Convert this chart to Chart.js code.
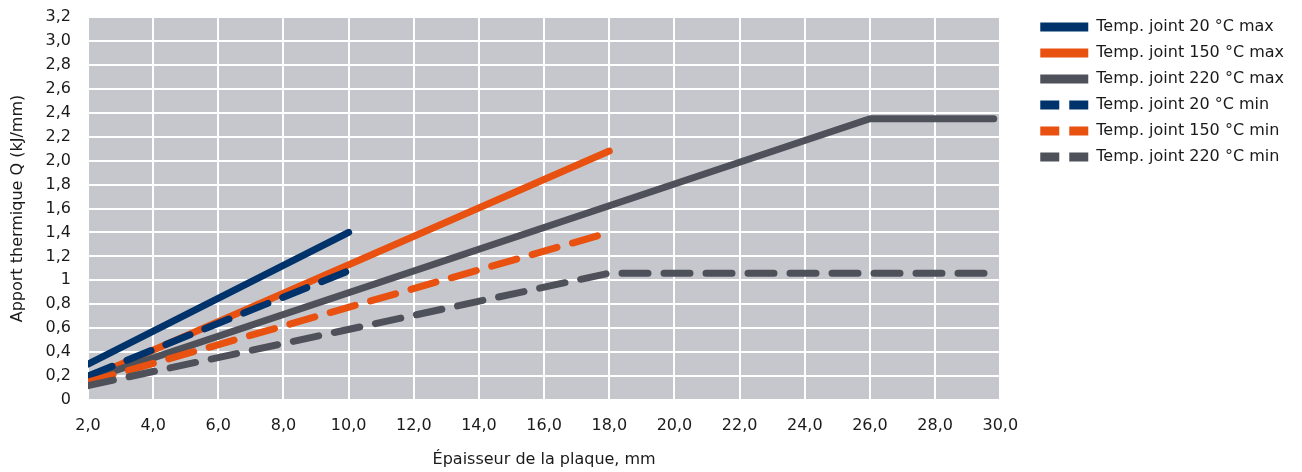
<!DOCTYPE html>
<html>
<head>
<meta charset="utf-8">
<script src="https://cdn.jsdelivr.net/npm/chart.js@4.4.0/dist/chart.umd.min.js"></script>
<style>
  html, body { margin: 0; padding: 0; background: #fff; }
  #wrap { width: 1302px; height: 472px; }
</style>
</head>
<body>
<div id="wrap"><canvas id="myChart"></canvas></div>
<script>
// data
var seriesNames = ['Temp. joint 20 °C max', 'Temp. joint 150 °C max', 'Temp. joint 220 °C max',
                   'Temp. joint 20 °C min', 'Temp. joint 150 °C min', 'Temp. joint 220 °C min'];

var max20X = [2, 10];        var max20Y = [0.30, 1.40];
var max150X = [2, 18];       var max150Y = [0.18, 2.08];
var max220X = [2, 26, 29.8]; var max220Y = [0.17, 2.35, 2.35];
var min20X = [2, 10];        var min20Y = [0.20, 1.08];
var min150X = [2, 18];       var min150Y = [0.15, 1.40];
var min220X = [2, 18, 29.8]; var min220Y = [0.12, 1.06, 1.06];

var xTickLabels = ['2,0','4,0','6,0','8,0','10,0','12,0','14,0','16,0','18,0','20,0','22,0','24,0','26,0','28,0','30,0'];
var yTickLabels = ['0','0,2','0,4','0,6','0,8','1','1,2','1,4','1,6','1,8','2,0','2,2','2,4','2,6','2,8','3,0','3,2'];

var blue = '#00336b', orange = '#e8510f', grey = '#4e5159';
var font = 'DejaVu Sans';

function pts(xs, ys) {
  return xs.map(function (x, i) { return { x: x, y: ys[i] }; });
}

// later series are drawn on top (lower order = on top)
function line(label, xs, ys, color, dashed, order) {
  return {
    label: label,
    data: pts(xs, ys),
    borderColor: color,
    backgroundColor: color,
    borderWidth: 7,
    borderCapStyle: 'round',
    borderJoinStyle: 'round',
    borderDash: dashed ? [26, 16] : [],
    pointRadius: 0,
    fill: false,
    tension: 0,
    order: order
  };
}

// grey plot background
var plotBg = {
  id: 'plotBg',
  beforeDraw: function (chart) {
    var a = chart.chartArea, c = chart.ctx;
    c.save();
    c.fillStyle = '#c6c7cc';
    c.fillRect(a.left, a.top, a.right - a.left, a.bottom - a.top);
    c.restore();
  }
};

var ctx = document.querySelector('#myChart').getContext('2d');
var myChart = new Chart(ctx, {
  type: 'line',
  data: {
    datasets: [
      line(seriesNames[0], max20X, max20Y, blue, false, 5),
      line(seriesNames[1], max150X, max150Y, orange, false, 4),
      line(seriesNames[2], max220X, max220Y, grey, false, 3),
      line(seriesNames[3], min20X, min20Y, blue, true, 2),
      line(seriesNames[4], min150X, min150Y, orange, true, 1),
      line(seriesNames[5], min220X, min220Y, grey, true, 0)
    ]
  },
  options: {
    responsive: true,
    maintainAspectRatio: false,
    animation: false,
    layout: { padding: { top: 9, bottom: 0, left: 0, right: 8 } },
    scales: {
      x: {
        type: 'linear',
        min: 2,
        max: 30,
        grid: { color: '#ffffff', lineWidth: 2, drawTicks: false },
        border: { display: false },
        ticks: {
          stepSize: 2,
          padding: 16,
          color: '#1a1a1a',
          font: { family: font, size: 16 },
          maxRotation: 0,
          autoSkip: false,
          callback: function (v, i) { return xTickLabels[i]; }
        },
        title: {
          display: true,
          text: 'Épaisseur de la plaque, mm',
          color: '#1a1a1a',
          font: { family: font, size: 16 },
          padding: { top: 0, bottom: 3 }
        },
        afterFit: function (s) { s.height = 72; }
      },
      y: {
        min: 0,
        max: 3.2,
        grid: { color: '#ffffff', lineWidth: 2, drawTicks: false },
        border: { display: false },
        ticks: {
          stepSize: 0.2,
          padding: 17,
          color: '#1a1a1a',
          font: { family: font, size: 16 },
          autoSkip: false,
          callback: function (v, i) { return yTickLabels[i]; }
        },
        title: {
          display: true,
          text: 'Apport thermique Q (kJ/mm)',
          color: '#1a1a1a',
          font: { family: font, size: 16 },
          padding: { top: 8, bottom: 0 }
        },
        afterFit: function (s) {
          s.width = 88;
          s.paddingTop = 17;
          s.paddingBottom = 0;
        }
      }
    },
    plugins: {
      legend: {
        position: 'right',
        align: 'start',
        labels: {
          usePointStyle: true,
          pointStyleWidth: 78,   // 30px blank lead-in + 48px sample
          padding: 10,
          color: '#1a1a1a',
          font: { family: font, size: 16 },
          generateLabels: function (chart) {
            return chart.data.datasets.map(function (ds, i) {
              return {
                text: ds.label,
                datasetIndex: i,
                pointStyle: 'line',
                strokeStyle: ds.borderColor,
                fillStyle: ds.borderColor,
                lineWidth: 9,
                lineCap: 'butt',
                lineDash: ds.borderDash.length ? [0, 30, 19, 10, 19, 1000] : [0, 30, 48, 1000],
                fontColor: '#1a1a1a'
              };
            });
          }
        }
      },
      tooltip: { enabled: false }
    }
  },
  plugins: [plotBg]
});
</script>
</body>
</html>
